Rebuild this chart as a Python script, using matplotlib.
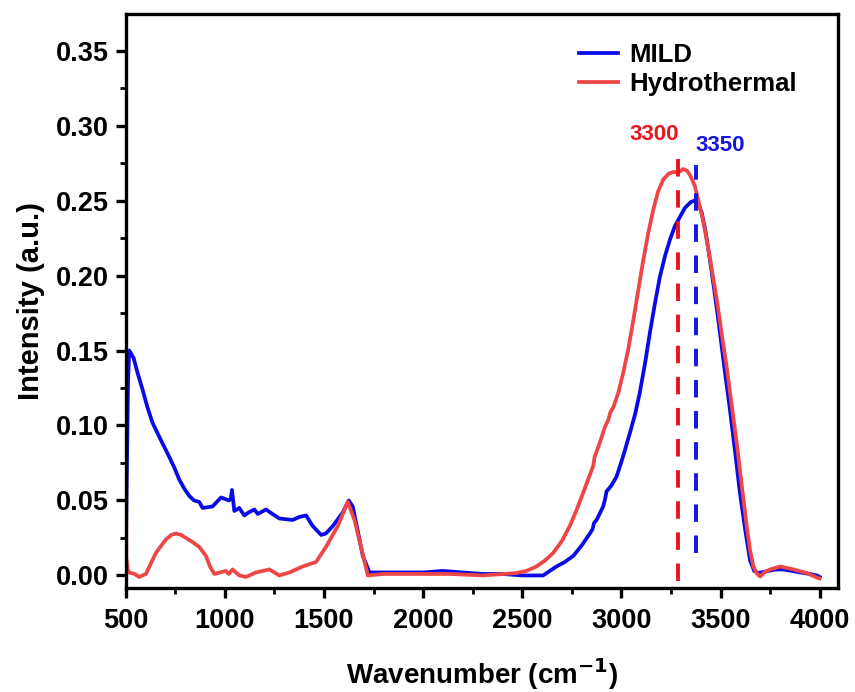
import numpy as np
import matplotlib.pyplot as plt

plt.rcParams['font.family'] = ['Liberation Sans', 'DejaVu Sans']
plt.rcParams['font.weight'] = 'bold'
plt.rcParams['mathtext.default'] = 'bf'

# MILD (azul)
mild_x = [500, 505, 512, 518, 540, 560, 585, 610, 635, 660, 686, 720, 745, 770, 795, 821,
          845, 871, 888, 938, 981, 1022, 1030, 1036, 1042, 1048, 1073, 1098, 1120, 1149,
          1166, 1208, 1240, 1275, 1342, 1376, 1410, 1443, 1486, 1510, 1545, 1595, 1625,
          1645, 1670, 1696, 1730, 1800, 1900, 2000, 2100, 2200, 2300, 2400, 2500, 2605,
          2673, 2715, 2757, 2800, 2841, 2855, 2862, 2875, 2908, 2918, 2925, 2950, 2976,
          3010, 3043, 3070, 3093, 3120, 3144, 3170, 3194, 3220, 3245, 3270, 3295, 3320,
          3350, 3371, 3390, 3405, 3425, 3447, 3472, 3497, 3522, 3548, 3573, 3598, 3625,
          3649, 3670, 3691, 3740, 3780, 3818, 3860, 3902, 3950, 3986, 4000]
mild_y = [0.005, 0.06, 0.13, 0.150, 0.145, 0.135, 0.124, 0.112, 0.102, 0.095, 0.088,
          0.079, 0.072, 0.064, 0.058, 0.053, 0.050, 0.049, 0.045, 0.046, 0.052, 0.050,
          0.051, 0.057, 0.050, 0.043, 0.045, 0.040, 0.042, 0.044, 0.041, 0.044, 0.041,
          0.038, 0.037, 0.039, 0.040, 0.033, 0.027, 0.028, 0.033, 0.042, 0.050, 0.046,
          0.030, 0.013, 0.002, 0.002, 0.002, 0.002, 0.003, 0.002, 0.001, 0.001, 0.000,
          0.000, 0.006, 0.009, 0.013, 0.020, 0.028, 0.031, 0.035, 0.037, 0.046, 0.051,
          0.056, 0.060, 0.066, 0.080, 0.095, 0.108, 0.122, 0.142, 0.162, 0.182, 0.199,
          0.213, 0.224, 0.233, 0.239, 0.245, 0.249, 0.250, 0.247, 0.242, 0.229, 0.210,
          0.187, 0.162, 0.136, 0.110, 0.083, 0.055, 0.030, 0.010, 0.003, 0.0016, 0.003,
          0.004, 0.004, 0.003, 0.002, 0.001, 0.000, -0.001]

# Hydrothermal (rojo)
hyd_x = [500, 503, 510, 518, 545, 568, 602, 652, 680, 703, 730, 753, 780, 804, 840, 871,
         905, 925, 947, 1005, 1020, 1039, 1073, 1107, 1157, 1225, 1275, 1326, 1393,
         1460, 1510, 1570, 1620, 1654, 1696, 1721, 1800, 1900, 2000, 2133, 2302, 2470,
         2520, 2572, 2615, 2656, 2700, 2740, 2775, 2807, 2835, 2858, 2865, 2890, 2917,
         2935, 2945, 2959, 2985, 3009, 3035, 3060, 3085, 3110, 3135, 3161, 3185, 3211,
         3240, 3262, 3290, 3312, 3330, 3346, 3370, 3388, 3410, 3430, 3455, 3481, 3505,
         3531, 3557, 3582, 3607, 3632, 3650, 3666, 3685, 3700, 3720, 3750, 3801, 3868,
         3935, 3994, 4000]
hyd_y = [0.277, 0.012, 0.004, 0.002, 0.001, -0.001, 0.001, 0.015, 0.020, 0.024, 0.027,
         0.028, 0.027, 0.025, 0.022, 0.019, 0.013, 0.006, 0.001, 0.003, 0.001, 0.004,
         0.000, -0.001, 0.002, 0.004, 0.000, 0.002, 0.006, 0.009, 0.019, 0.033, 0.049,
         0.037, 0.014, 0.000, 0.001, 0.001, 0.001, 0.001, 0.000, 0.0016, 0.003, 0.006,
         0.010, 0.015, 0.023, 0.033, 0.044, 0.055, 0.065, 0.073, 0.079, 0.088, 0.099,
         0.104, 0.109, 0.112, 0.122, 0.135, 0.151, 0.170, 0.190, 0.210, 0.228, 0.244,
         0.256, 0.264, 0.268, 0.269, 0.269, 0.271, 0.270, 0.267, 0.260, 0.250, 0.238,
         0.224, 0.205, 0.184, 0.162, 0.139, 0.113, 0.088, 0.060, 0.033, 0.016, 0.006,
         0.001, -0.0007, 0.002, 0.004, 0.006, 0.004, 0.0016, -0.0018, -0.002]

# picos marcados
pico_hyd = 3285
pico_mild = 3375

azul = '#0a0ae6'
rojo = '#ee4646'

fig = plt.figure(figsize=(8.55, 6.92), dpi=100)
ax = fig.add_axes([0.147, 0.150, 0.833, 0.830])

ax.plot(mild_x, mild_y, color=azul, lw=2.7, label='MILD')
ax.plot(hyd_x, hyd_y, color=rojo, lw=2.7, label='Hydrothermal')

ax.plot([pico_hyd, pico_hyd], [-0.004, 0.282], color='#e8141e', lw=2.8,
        dashes=(4.5, 3.5))
ax.plot([pico_mild, pico_mild], [0.015, 0.274], color='#1414e6', lw=2.8,
        dashes=(4.5, 3.5))
ax.text(3166, 0.294, '3300', color='#e8141e', fontsize=16, fontweight='bold',
        ha='center', va='center')
ax.text(3500, 0.287, '3350', color='#1414e6', fontsize=16, fontweight='bold',
        ha='center', va='center')

ax.set_xlim(500, 4092)
ax.set_ylim(-0.0085, 0.3745)
ax.set_xticks(np.arange(500, 4001, 500))
ax.set_xticks(np.arange(750, 4001, 500), minor=True)
ax.set_yticks(np.arange(0, 0.351, 0.05))
ax.set_yticks(np.arange(0.025, 0.351, 0.05), minor=True)
ax.set_yticklabels(['%.2f' % v for v in np.arange(0, 0.351, 0.05)])

ax.tick_params(which='major', direction='out', length=7, width=2.4, labelsize=19.5)
ax.tick_params(axis='x', which='major', pad=7)
ax.tick_params(axis='y', which='major', pad=5)
ax.tick_params(which='minor', direction='out', length=4, width=2.0)
for s in ax.spines.values():
    s.set_linewidth(2.4)

ax.set_xlabel('Wavenumber (cm$^{-1}$)', fontsize=20, fontweight='bold', labelpad=16)
ax.set_ylabel('Intensity (a.u.)', fontsize=21, fontweight='bold', labelpad=8)

ax.legend(loc='upper right', frameon=False, fontsize=18.5, handlelength=1.5,
          handletextpad=0.45, labelspacing=0.2, borderaxespad=0.5,
          bbox_to_anchor=(0.975, 0.99))

plt.savefig('out.png', dpi=100)
